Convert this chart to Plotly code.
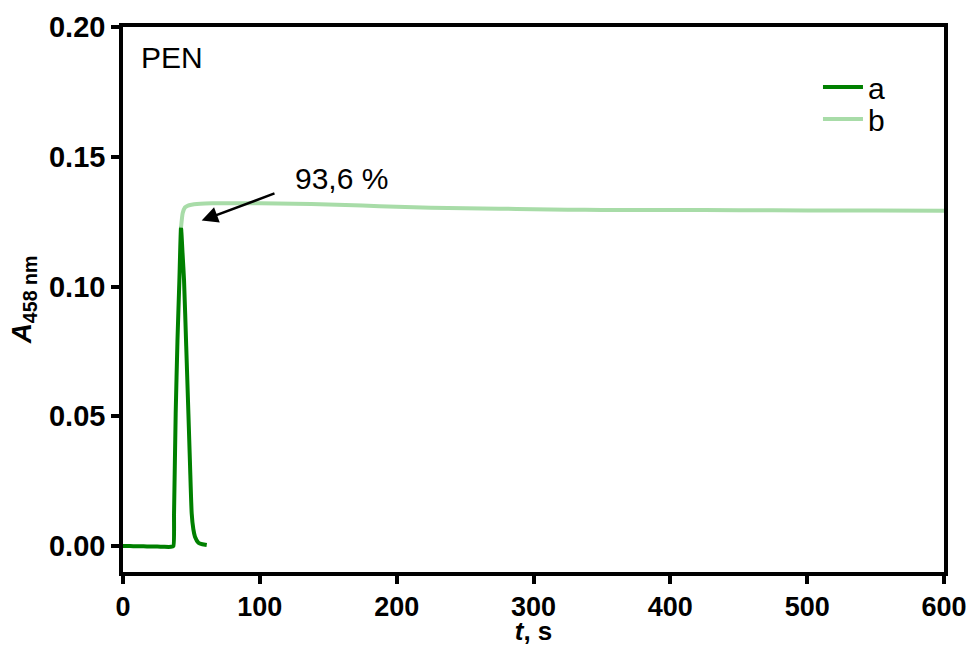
import plotly.graph_objects as go

# ---- data ----
t_a = [0, 5, 10, 15, 20, 25, 30, 35, 36.8, 37.3, 38.5, 39.8, 41.2, 42.4, 43.5, 44.6,
       46.2, 47.8, 49.0, 50.2, 51.4, 52.6, 55.1, 58.0, 61.2]
a_vals = [0.0000, 0.0000, -0.0001, -0.0001, -0.0002, -0.0002, -0.0003, -0.0003, 0.0000,
          0.0126, 0.0510, 0.0790, 0.1025, 0.1227, 0.1130, 0.1025, 0.0770, 0.0510, 0.0310,
          0.0126, 0.0065, 0.0036, 0.0013, 0.0007, 0.0004]

t_b = [42.4, 43.6, 45.3, 47.5, 50, 54, 60, 70, 80, 90, 100, 125, 150, 175, 200, 225,
       250, 275, 300, 325, 350, 400, 450, 500, 550, 600]
b_vals = [0.1227, 0.1282, 0.1305, 0.1312, 0.1315, 0.1318, 0.1320, 0.1321, 0.1321, 0.1321,
          0.1321, 0.1319, 0.1316, 0.1312, 0.1307, 0.1304, 0.1302, 0.1300, 0.1298, 0.1296,
          0.1295, 0.1295, 0.1294, 0.1293, 0.1293, 0.1292]

series_names = ["a", "b"]
colors = ["#008000", "#a8dca8"]
x_ticks = [0, 100, 200, 300, 400, 500, 600]
y_ticks = [0.00, 0.05, 0.10, 0.15, 0.20]
sample_label = "PEN"
ratio_label = "93,6 %"

FONT = "Liberation Sans, Arial, sans-serif"

fig = go.Figure()
fig.add_trace(go.Scatter(x=t_a, y=a_vals, mode="lines", name=series_names[0],
                         line=dict(color=colors[0], width=4, shape="spline", smoothing=0.5),
                         legend="legend"))
fig.add_trace(go.Scatter(x=t_b, y=b_vals, mode="lines", name=series_names[1],
                         line=dict(color=colors[1], width=4, shape="spline", smoothing=0.5),
                         legend="legend2"))

axis_common = dict(showline=True, linewidth=3.5, linecolor="black", mirror=True,
                   ticks="outside", ticklen=8, tickwidth=3.5, tickcolor="black",
                   showgrid=False, zeroline=False, automargin=False)

fig.update_xaxes(range=[0, 600], tickvals=x_ticks, ticktext=[str(v) for v in x_ticks],
                 tickfont=dict(family=FONT, size=27, color="black", weight="bold"),
                 title=dict(text="<b><i>t</i>, s</b>", font=dict(family=FONT, size=26, color="black"),
                            standoff=0),
                 **axis_common)
fig.update_yaxes(range=[-0.01, 0.2], tickvals=y_ticks, tickformat=".2f",
                 tickfont=dict(family=FONT, size=29, color="black", weight="bold"),
                 title=dict(text="<b><i>A</i><sub>458 nm</sub></b>",
                            font=dict(family=FONT, size=28, color="black"), standoff=10),
                 **axis_common)

fig.add_annotation(x=11.5, y=0.1881, xref="x", yref="y", text=sample_label,
                   showarrow=False, xanchor="left", yanchor="middle",
                   font=dict(family=FONT, size=30, color="black"))
fig.add_annotation(x=159.4, y=0.1418, xref="x", yref="y", text=ratio_label,
                   showarrow=False, xanchor="center", yanchor="middle",
                   font=dict(family=FONT, size=30, color="black"))
fig.add_annotation(x=57.5, y=0.1254, xref="x", yref="y", ax=111.8, ay=0.1361,
                   axref="x", ayref="y", text="", showarrow=True,
                   arrowhead=2, arrowsize=1.3, arrowwidth=2.5, arrowcolor="black")

legend_common = dict(bgcolor="rgba(0,0,0,0)", borderwidth=0, itemwidth=40,
                     font=dict(family=FONT, size=30, color="black"),
                     xanchor="left", yanchor="middle")
fig.update_layout(
    width=971, height=646,
    margin=dict(l=123, r=27, t=27, b=74),
    paper_bgcolor="white", plot_bgcolor="white",
    showlegend=True,
    legend=dict(x=0.8465, y=0.890, **legend_common),
    legend2=dict(x=0.8465, y=0.831, **legend_common),
)

fig.write_html("out.html", config={"displayModeBar": False},
               post_script="document.body.style.margin='0px';")
